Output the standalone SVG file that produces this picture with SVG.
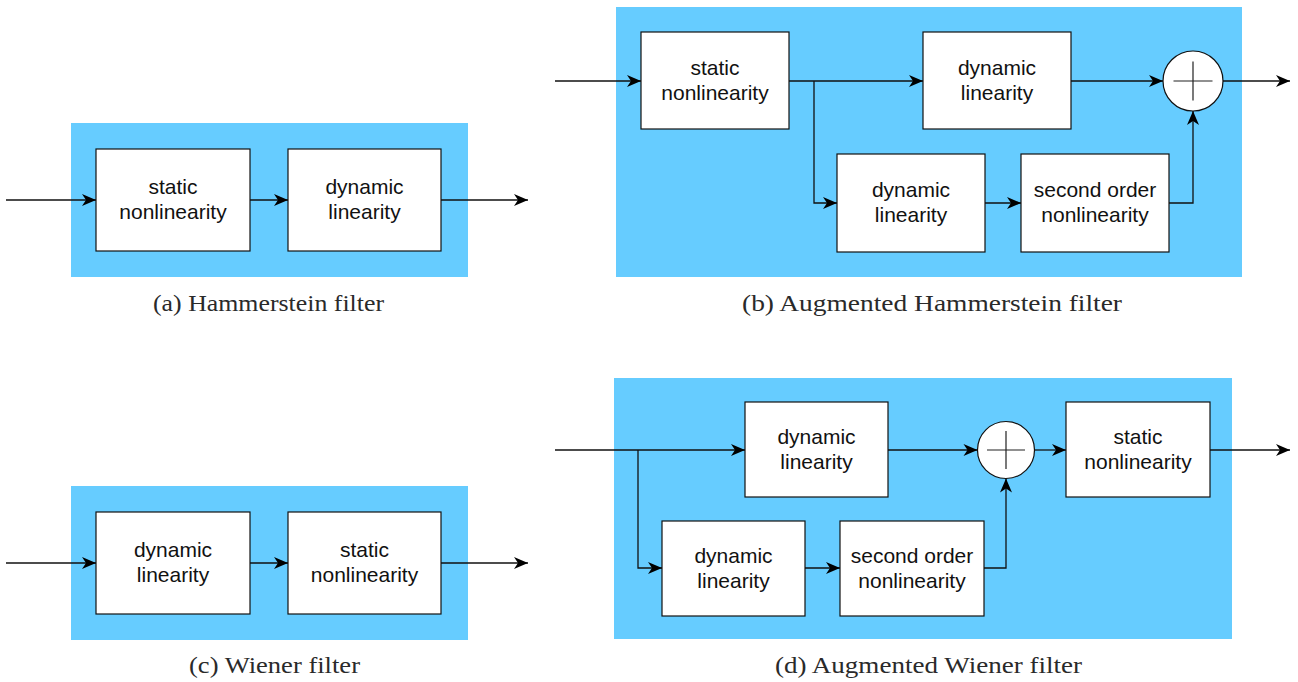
<svg xmlns="http://www.w3.org/2000/svg" width="1298" height="682" viewBox="0 0 1298 682">
  <style>
    .panel { fill: #66CCFF; stroke: none; }
    .block { fill: #FFFFFF; stroke: #111111; stroke-width: 1.2; }
    .sum { fill: #FFFFFF; stroke: #111111; stroke-width: 1.2; }
    .cross { stroke: #222222; stroke-width: 1.2; fill: none; }
    .label { font-family: "Liberation Sans", Arial, sans-serif; font-size: 21px; fill: #111111; text-anchor: middle; }
    .caption { font-family: "Liberation Serif", "Times New Roman", serif; font-size: 24px; fill: #2a2a2a; }
    .wire { fill: none; stroke: #111111; stroke-width: 1.3; }
    .arrow { marker-end: url(#head); }
  </style>
  <defs>
    <marker id="head" markerUnits="userSpaceOnUse" viewBox="-15 -8 16 16" refX="0" refY="0" markerWidth="16" markerHeight="16" orient="auto">
      <path d="M0,0 L-14,-6 L-10,0 L-14,6 Z" fill="#000000"/>
    </marker>
  </defs>

  <rect width="1298" height="682" fill="#FFFFFF"/>

  <!-- (a) Hammerstein filter -->
  <g id="panel-a">
    <rect class="panel" x="71" y="123" width="397" height="154"/>
    <g id="a-static">
      <rect class="block" x="96" y="149" width="154" height="102"/>
      <text class="label" x="173" y="194">static</text>
      <text class="label" x="173" y="219">nonlinearity</text>
    </g>
    <g id="a-dynamic">
      <rect class="block" x="288" y="149" width="153" height="102"/>
      <text class="label" x="364.5" y="194">dynamic</text>
      <text class="label" x="364.5" y="219">linearity</text>
    </g>
    <g id="a-connectors">
      <path class="wire arrow" d="M6,200 L96,200"/>
      <path class="wire arrow" d="M250,200 L288,200"/>
      <path class="wire arrow" d="M441,200 L528,200"/>
    </g>
    <text class="caption" x="153" y="311" textLength="231" lengthAdjust="spacingAndGlyphs">(a) Hammerstein filter</text>
  </g>

  <!-- (c) Wiener filter -->
  <g id="panel-c">
    <rect class="panel" x="71" y="486" width="397" height="154"/>
    <g id="c-dynamic">
      <rect class="block" x="96" y="512" width="154" height="102"/>
      <text class="label" x="173" y="557">dynamic</text>
      <text class="label" x="173" y="582">linearity</text>
    </g>
    <g id="c-static">
      <rect class="block" x="288" y="512" width="153" height="102"/>
      <text class="label" x="364.5" y="557">static</text>
      <text class="label" x="364.5" y="582">nonlinearity</text>
    </g>
    <g id="c-connectors">
      <path class="wire arrow" d="M6,563 L96,563"/>
      <path class="wire arrow" d="M250,563 L288,563"/>
      <path class="wire arrow" d="M441,563 L528,563"/>
    </g>
    <text class="caption" x="189" y="673" textLength="171" lengthAdjust="spacingAndGlyphs">(c) Wiener filter</text>
  </g>

  <!-- (b) Augmented Hammerstein filter -->
  <g id="panel-b">
    <rect class="panel" x="616" y="7" width="626" height="270"/>
    <g id="b-static">
      <rect class="block" x="641" y="32" width="148" height="97"/>
      <text class="label" x="715" y="74.5">static</text>
      <text class="label" x="715" y="99.5">nonlinearity</text>
    </g>
    <g id="b-dynamic-top">
      <rect class="block" x="923" y="32" width="148" height="97"/>
      <text class="label" x="997" y="74.5">dynamic</text>
      <text class="label" x="997" y="99.5">linearity</text>
    </g>
    <g id="b-sum">
      <circle class="sum" cx="1193" cy="81" r="30"/>
      <path class="cross" d="M1173.5,81 L1212.5,81 M1193,61.5 L1193,100.5"/>
    </g>
    <g id="b-dynamic-low">
      <rect class="block" x="837" y="154" width="148" height="98"/>
      <text class="label" x="911" y="197">dynamic</text>
      <text class="label" x="911" y="222">linearity</text>
    </g>
    <g id="b-second-order">
      <rect class="block" x="1021" y="154" width="148" height="98"/>
      <text class="label" x="1095" y="197">second order</text>
      <text class="label" x="1095" y="222">nonlinearity</text>
    </g>
    <g id="b-connectors">
      <path class="wire arrow" d="M555,81 L641,81"/>
      <path class="wire arrow" d="M789,81 L923,81"/>
      <path class="wire arrow" d="M1071,81 L1163,81"/>
      <path class="wire arrow" d="M1223,81 L1290,81"/>
      <path class="wire arrow" d="M814,81 L814,203 L837,203"/>
      <path class="wire arrow" d="M985,203 L1021,203"/>
      <path class="wire arrow" d="M1169,203 L1193,203 L1193,111"/>
    </g>
    <text class="caption" x="742" y="311" textLength="380" lengthAdjust="spacingAndGlyphs">(b) Augmented Hammerstein filter</text>
  </g>

  <!-- (d) Augmented Wiener filter -->
  <g id="panel-d">
    <rect class="panel" x="614" y="378" width="618" height="261"/>
    <g id="d-dynamic-top">
      <rect class="block" x="745" y="402" width="143" height="95"/>
      <text class="label" x="816.5" y="443.5">dynamic</text>
      <text class="label" x="816.5" y="468.5">linearity</text>
    </g>
    <g id="d-sum">
      <circle class="sum" cx="1006" cy="450" r="28.5"/>
      <path class="cross" d="M987,450 L1025,450 M1006,431 L1006,469"/>
    </g>
    <g id="d-static">
      <rect class="block" x="1066" y="402" width="144" height="95"/>
      <text class="label" x="1138" y="443.5">static</text>
      <text class="label" x="1138" y="468.5">nonlinearity</text>
    </g>
    <g id="d-dynamic-low">
      <rect class="block" x="662" y="521" width="143" height="95"/>
      <text class="label" x="733.5" y="562.5">dynamic</text>
      <text class="label" x="733.5" y="587.5">linearity</text>
    </g>
    <g id="d-second-order">
      <rect class="block" x="840" y="521" width="144" height="95"/>
      <text class="label" x="912" y="562.5">second order</text>
      <text class="label" x="912" y="587.5">nonlinearity</text>
    </g>
    <g id="d-connectors">
      <path class="wire arrow" d="M555,450 L745,450"/>
      <path class="wire arrow" d="M888,450 L977.5,450"/>
      <path class="wire arrow" d="M1034.5,450 L1066,450"/>
      <path class="wire arrow" d="M1210,450 L1290,450"/>
      <path class="wire arrow" d="M638,450 L638,568 L662,568"/>
      <path class="wire arrow" d="M805,568 L840,568"/>
      <path class="wire arrow" d="M984,568 L1006,568 L1006,478.5"/>
    </g>
    <text class="caption" x="775" y="673" textLength="307" lengthAdjust="spacingAndGlyphs">(d) Augmented Wiener filter</text>
  </g>
</svg>
